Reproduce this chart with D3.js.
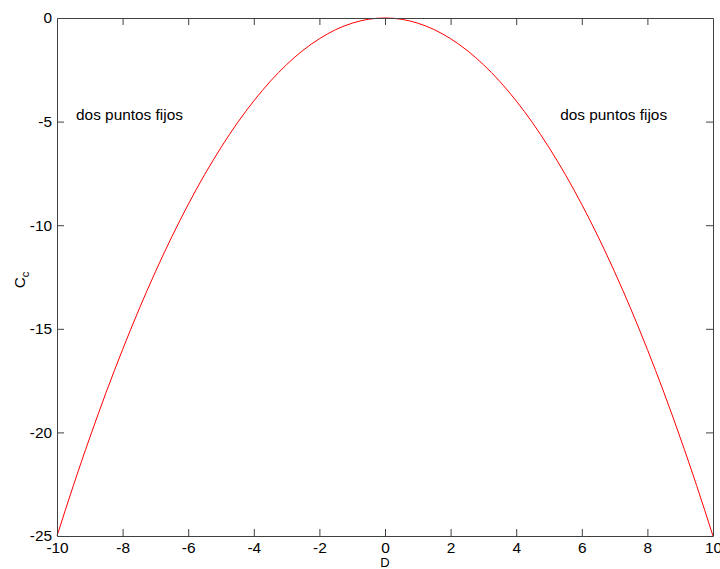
<!DOCTYPE html>
<html>
<head>
<meta charset="utf-8">
<script src="https://cdn.jsdelivr.net/npm/d3@7"></script>
<style>
  body { margin: 0; background: #fff; overflow: hidden; }
  text { font-family: "Liberation Sans", Arial, sans-serif; }
</style>
</head>
<body>
<div id="chart-area"></div>
<script>
// values
const dValues = [-10, -9.5, -9, -8.5, -8, -7.5, -7, -6.5, -6, -5.5, -5, -4.5, -4, -3.5, -3, -2.5, -2, -1.5, -1, -0.5,
                 0, 0.5, 1, 1.5, 2, 2.5, 3, 3.5, 4, 4.5, 5, 5.5, 6, 6.5, 7, 7.5, 8, 8.5, 9, 9.5, 10];
const ccValues = [-25, -22.56, -20.25, -18.06, -16, -14.06, -12.25, -10.56, -9, -7.56, -6.25, -5.06, -4, -3.06, -2.25, -1.56, -1, -0.56, -0.25, -0.06,
                  0, -0.06, -0.25, -0.56, -1, -1.56, -2.25, -3.06, -4, -5.06, -6.25, -7.56, -9, -10.56, -12.25, -14.06, -16, -18.06, -20.25, -22.56, -25];
const xTicks = [-10, -8, -6, -4, -2, 0, 2, 4, 6, 8, 10];
const yTicks = [-25, -20, -15, -10, -5, 0];
const notes = [
    {text: "dos puntos fijos", d: -9.42, cc: -4.68},
    {text: "dos puntos fijos", d: 5.34, cc: -4.68}
];

const width = 720, height = 569;
const margin = {top: 18, left: 57, right: 7, bottom: 33};
const graphWidth = width - margin.left - margin.right;
const graphHeight = height - margin.top - margin.bottom;
const axisColor = "#404040";
const fontSize = "15.4px";

var svg = d3.select("#chart-area")
    .append("svg")
        .attr("width", width)
        .attr("height", height);
var main = svg.append("g")
        .attr("transform", "translate(" + margin.left + "," + margin.top + ")");

var x = d3.scaleLinear().domain([-10, 10]).range([0, graphWidth]);
var y = d3.scaleLinear().domain([-25, 0]).range([graphHeight, 0]);

var points = dValues.map((d, i) => ({d: d, cc: ccValues[i]}));

// curve
var line = d3.line()
    .x(p => x(p.d))
    .y(p => y(p.cc))
    .curve(d3.curveNatural);
main.append("path")
    .datum(points)
    .attr("fill", "none")
    .attr("stroke", "#ff0000")
    .attr("stroke-width", 1)
    .attr("d", line);

// axes: ticks pointing inward, on all four sides
var tickLen = 7;
var plainFormat = d => String(d); // hyphen minus, like the original
var xBottom = main.append("g")
    .attr("transform", "translate(0," + graphHeight + ")")
    .call(d3.axisBottom(x).tickValues(xTicks).tickSizeInner(-tickLen).tickSizeOuter(0).tickPadding(6).tickFormat(plainFormat));
var xTop = main.append("g")
    .call(d3.axisTop(x).tickValues(xTicks).tickSizeInner(-tickLen).tickSizeOuter(0).tickFormat(""));
var yLeft = main.append("g")
    .call(d3.axisLeft(y).tickValues(yTicks).tickSizeInner(-tickLen).tickSizeOuter(0).tickPadding(5).tickFormat(plainFormat));
var yRight = main.append("g")
    .attr("transform", "translate(" + graphWidth + ",0)")
    .call(d3.axisRight(y).tickValues(yTicks).tickSizeInner(-tickLen).tickSizeOuter(0).tickFormat(""));

[xBottom, xTop, yLeft, yRight].forEach(g => {
    g.select(".domain").attr("stroke", axisColor);
    g.selectAll(".tick line").attr("stroke", axisColor);
    g.selectAll(".tick text")
        .attr("fill", "#000")
        .attr("font-size", fontSize)
        .attr("font-family", "Liberation Sans, Arial, sans-serif");
});
// drop the ticks that sit on the corners
xBottom.selectAll(".tick line").filter(d => d == -10 || d == 10).remove();
xTop.selectAll(".tick line").filter(d => d == -10 || d == 10).remove();
yLeft.selectAll(".tick line").filter(d => d == -25 || d == 0).remove();
yRight.selectAll(".tick line").filter(d => d == -25 || d == 0).remove();

// annotations
main.selectAll(".note")
    .data(notes)
    .enter()
    .append("text")
        .attr("class", "note")
        .attr("x", n => x(n.d))
        .attr("y", n => y(n.cc))
        .attr("dy", "0.35em")
        .attr("font-size", fontSize)
        .attr("fill", "#000")
        .text(n => n.text);

// X label (sits at the very bottom edge)
main.append("text")
    .attr("x", graphWidth / 2)
    .attr("y", height - margin.top - 2)
    .attr("font-size", "13px")
    .attr("text-anchor", "middle")
    .text("D");

// Y label
var yLabel = main.append("text")
    .attr("transform", "rotate(-90)")
    .attr("x", -(280 - margin.top))
    .attr("y", -32)
    .attr("font-size", fontSize)
    .attr("text-anchor", "middle");
yLabel.append("tspan").text("C");
yLabel.append("tspan").attr("font-size", "11px").attr("dy", "4").text("c");
</script>
</body>
</html>
